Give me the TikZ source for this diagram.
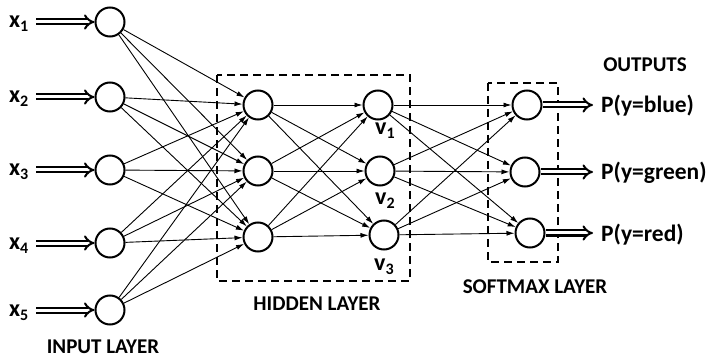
\documentclass[tikz,border=0pt]{standalone}
\usepackage{fontspec}
\setmainfont{Carlito}
\usetikzlibrary{arrows.meta}
\newcommand{\sub}[1]{\raisebox{-4pt}{\fontsize{16}{16}\selectfont #1}}
\begin{document}
\begin{tikzpicture}[x=1pt,y=-1pt,
 neuron/.style={circle,draw,line width=2pt,minimum size=29pt,inner sep=0pt},
 conn/.style={line width=0.9pt,-{Latex[length=8pt,width=5pt]}},
 dblarrow/.style={double,double distance=3pt,line width=2pt,-{Implies}},
 lbl/.style={font=\fontsize{21}{24}\selectfont\bfseries,inner sep=0pt},
 plbl/.style={font=\fontsize{23.5}{26}\selectfont\bfseries,inner sep=0pt},
 vlbl/.style={font=\fontsize{24}{26}\selectfont\bfseries,inner sep=0pt},
 dbox/.style={draw,line width=2pt,dash pattern=on 8pt off 5pt}]
\useasboundingbox (0,0) rectangle (712,358);
% boxes
\draw[dbox] (217,75) rectangle (410,281);
\draw[dbox] (488,83) rectangle (558,262);
% input neurons
\node[neuron] (i1) at (110,22) {};
\node[neuron] (i2) at (110,97) {};
\node[neuron] (i3) at (110,170) {};
\node[neuron] (i4) at (110,243) {};
\node[neuron] (i5) at (110,310) {};
% hidden 1
\node[neuron] (h1) at (258,105) {};
\node[neuron] (h2) at (258,171) {};
\node[neuron] (h3) at (258,237) {};
% hidden 2
\node[neuron] (v1) at (378,105) {};
\node[neuron] (v2) at (380,171) {};
\node[neuron] (v3) at (384,235) {};
% softmax
\node[neuron] (s1) at (527,105) {};
\node[neuron] (s2) at (525,172) {};
\node[neuron] (s3) at (530,233) {};
% connections
\foreach \i in {1,...,5}{\foreach \j in {1,2,3}{\draw[conn] (i\i) -- (h\j);}}
\foreach \i in {1,2,3}{\foreach \j in {1,2,3}{\draw[conn] (h\i) -- (v\j);}}
\foreach \i in {1,2,3}{\foreach \j in {1,2,3}{\draw[conn] (v\i) -- (s\j);}}
% input arrows and labels
\foreach \i/\y in {1/22,2/97,3/170,4/243,5/310}{
  \coordinate (a\i) at (36,\y);
  \draw[dblarrow] (a\i) -- (i\i);
  \node[vlbl,anchor=base west] (lx\i) at (9,\y+6) {x\sub{\i}};
}
% v labels
\node[vlbl,anchor=base west] (lv1) at (375,135) {v\sub{1}};
\node[vlbl,anchor=base west] (lv2) at (375,205) {v\sub{2}};
\node[vlbl,anchor=base west] (lv3) at (374,270) {v\sub{3}};
% outputs
\coordinate (o1) at (593,105);
\coordinate (o2) at (593,172);
\coordinate (o3) at (593,233);
\draw[dblarrow] (s1) -- (o1);
\draw[dblarrow] (s2) -- (o2);
\draw[dblarrow] (s3) -- (o3);
\node[plbl,anchor=base west] (p1) at (601,113) {P(y=blue)};
\node[plbl,anchor=base west] (p2) at (601,180) {P(y=green)};
\node[plbl,anchor=base west] (p3) at (601,241) {P(y=red)};
\node[lbl,anchor=base] (outs) at (645,72) {OUTPUTS};
% layer labels
\node[lbl,anchor=base] (lin) at (103,353) {INPUT LAYER};
\node[lbl,anchor=base] (lhid) at (317,310) {HIDDEN LAYER};
\node[lbl,anchor=base] (lsoft) at (535,293) {SOFTMAX LAYER};
\end{tikzpicture}
\end{document}
